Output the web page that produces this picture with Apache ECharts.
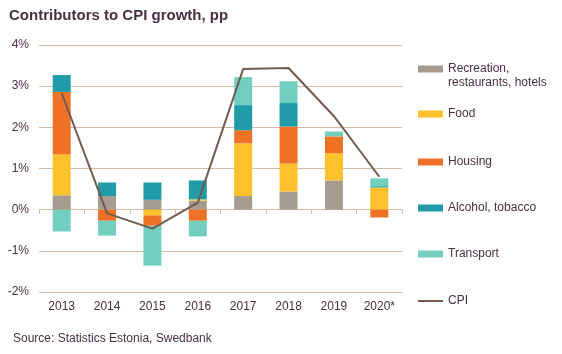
<!DOCTYPE html>
<html lang="en">
<head>
  <meta charset="UTF-8">
  <title>Contributors to CPI growth</title>
  <script src="https://cdn.jsdelivr.net/npm/echarts/dist/echarts.min.js"></script>
  <style>
    html, body { margin: 0; padding: 0; background: #fff; }
  </style>
</head>
<body>
  <div id="chart" style="width: 562px; height: 354px;"></div>
<script>
const years = ['2013', '2014', '2015', '2016', '2017', '2018', '2019', '2020*'];
const recreation = [0.35, 0.33, 0.24, 0.22, 0.33, 0.44, 0.71, 0];
const food = [0.99, 0, -0.14, 0.03, 1.28, 0.68, 0.66, 0.54];
const housing = [1.52, -0.27, -0.25, -0.27, 0.32, 0.90, 0.41, -0.19];
const alcohol = [0.41, 0.33, 0.42, 0.46, 0.61, 0.57, 0, 0.03];
const transport = [-0.53, -0.36, -0.97, -0.38, 0.68, 0.53, 0.12, 0.19];
const cpi = [2.83, -0.09, -0.46, 0.17, 3.42, 3.44, 2.27, 0.80];
const yTicks = [-2, -1, 0, 1, 2, 3, 4];

const txt = '#4b2f42';
const font = '"Liberation Sans", Arial, sans-serif';
const gridCol = '#d3bba8';

const bars = [
  ['Recreation, restaurants, hotels', recreation, '#a59b8e'],
  ['Food', food, '#fdc22b'],
  ['Housing', housing, '#ef7125'],
  ['Alcohol, tobacco', alcohol, '#1f9ca8'],
  ['Transport', transport, '#72cfc0']
];

let series = bars.map(b => ({
  name: b[0], type: 'bar', stack: 'c', stackStrategy: 'samesign',
  barWidth: 18, data: b[1], itemStyle: { color: b[2] }
}));
series.push({
  name: 'CPI', type: 'line', data: cpi, showSymbol: false, symbol: 'none',
  lineStyle: { color: '#735b50', width: 2 }, itemStyle: { color: '#735b50' }, z: 5
});

// one legend per item so the spacing and icon shapes match
const legendTops = [58, 103, 151, 197, 243, 290];
let legends = series.map((s, i) => ({
  data: [s.name], left: 413, top: legendTops[i], orient: 'vertical',
  icon: 'rect', itemWidth: 25, itemHeight: s.type == 'line' ? 2 : 7,
  selectedMode: false,
  formatter: n => n.startsWith('Recreation') ? 'Recreation,' : n,
  textStyle: { color: txt, fontFamily: font, fontSize: 12 }
}));

let chart = echarts.init(document.getElementById('chart'));
chart.setOption({
  animation: false,
  title: {
    text: 'Contributors to CPI growth, pp', left: 4, top: 3,
    textStyle: { color: txt, fontFamily: font, fontSize: 15, fontWeight: 'bold' }
  },
  legend: legends,
  grid: { left: 39, right: 160, top: 45, bottom: 62 },
  xAxis: [{
    type: 'category', data: years, position: 'bottom',
    axisLine: { onZero: false, show: false }, axisTick: { show: false },
    axisLabel: { color: txt, fontFamily: font, fontSize: 12, margin: 9 }
  }, {
    type: 'category', data: years, position: 'bottom',
    axisLine: { onZero: true, lineStyle: { color: gridCol } },
    axisTick: { show: true, length: 4, inside: false, lineStyle: { color: gridCol } },
    axisLabel: { show: false }
  }],
  yAxis: {
    type: 'value', min: yTicks[0], max: yTicks[yTicks.length - 1], interval: 1,
    axisLine: { show: false }, axisTick: { show: false },
    axisLabel: { color: txt, fontFamily: font, fontSize: 12, margin: 10, formatter: v => v + '%' },
    splitLine: { lineStyle: { color: gridCol, width: 1 } }
  },
  graphic: [{
    type: 'text', left: 448, top: 77,
    style: { text: 'restaurants, hotels', fill: txt, font: '12px ' + font }
  }, {
    type: 'text', left: 13, top: 333,
    style: { text: 'Source: Statistics Estonia, Swedbank', fill: txt, font: '12px ' + font }
  }],
  series: series
});
</script>
</body>
</html>
